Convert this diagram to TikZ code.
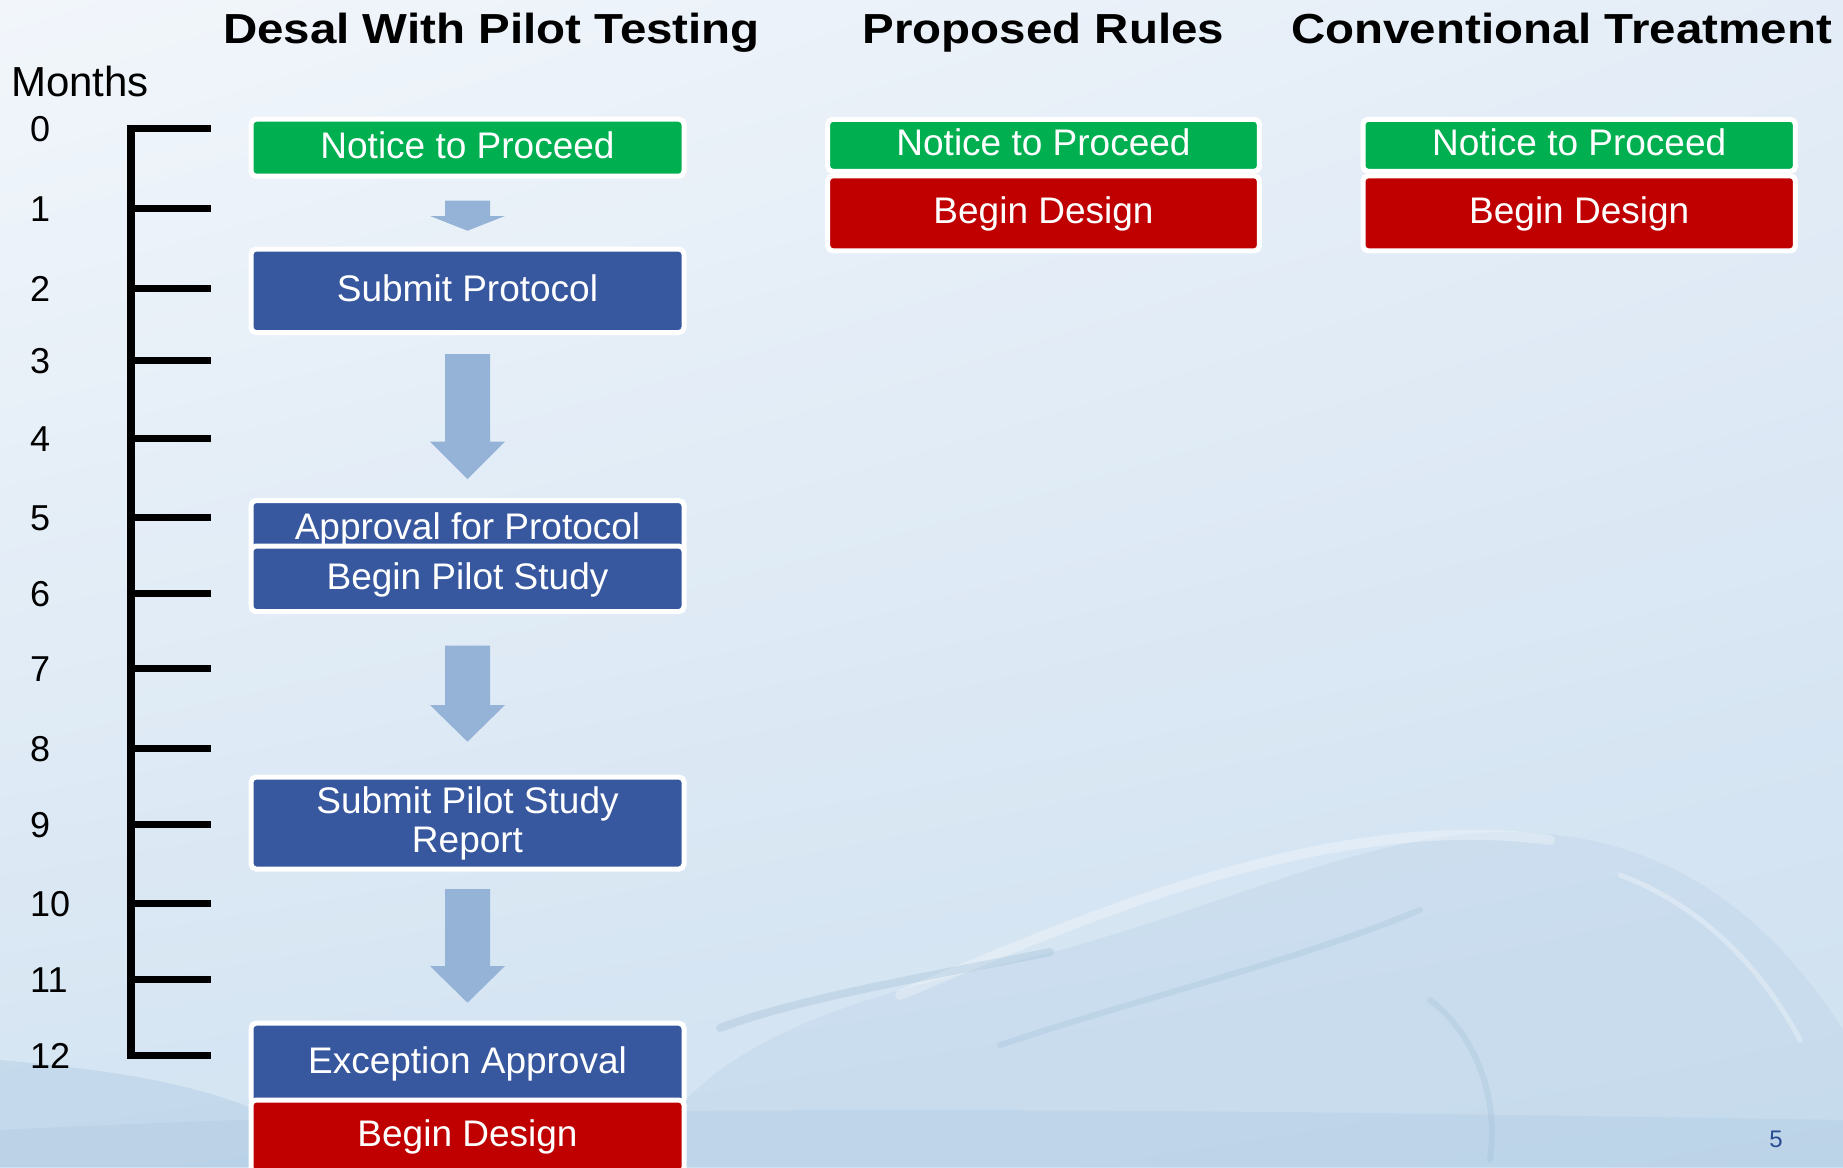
\documentclass[tikz,border=0pt]{standalone}
\usepackage{fontspec}
\usetikzlibrary{shadings}
\setmainfont{Liberation Sans}
\newfontfamily\titlefont{Liberation Sans}[FakeStretch=1.13]
\definecolor{cgreen}{RGB}{0,176,80}
\definecolor{cblue}{RGB}{55,87,158}
\definecolor{cred}{RGB}{192,0,0}
\definecolor{carrow}{RGB}{149,179,215}
\definecolor{bgA}{RGB}{242,246,251}
\definecolor{bgB}{RGB}{228,237,247}
\definecolor{bgC}{RGB}{212,228,242}
\definecolor{bgD}{RGB}{206,224,240}
\definecolor{waveA}{RGB}{165,196,222}
\definecolor{waveB}{RGB}{140,176,205}
\definecolor{pgnum}{RGB}{40,75,145}
\tikzset{
  boxbase/.style={rectangle, rounded corners=5pt, draw=white, line width=5pt,
    text=white, inner sep=0pt, font=\fontsize{37}{39}\selectfont},
  onebox/.style={boxbase, text height=29.6pt, text depth=8.9pt},
  twobox/.style={boxbase, align=center},
  gbox/.style={onebox, fill=cgreen},
  bbox/.style={onebox, fill=cblue},
  rbox/.style={onebox, fill=cred},
  headline/.style={font=\titlefont\bfseries\fontsize{42}{44}\selectfont, anchor=base, inner sep=0pt},
  monthnum/.style={font=\fontsize{36}{36}\selectfont, anchor=base west, inner sep=0pt},
  tickline/.style={line width=7pt},
  blockarrow/.style={fill=carrow}
}
\newcommand\dnarrow[4]{%
  \fill[blockarrow] (#1-22.5,#2) -- (#1+22.5,#2) -- (#1+22.5,#3) -- (#1+37.5,#3)
    -- (#1,#4) -- (#1-37.5,#3) -- (#1-22.5,#3) -- cycle;}
\begin{document}
\begin{tikzpicture}[x=1pt,y=-1pt]
\clip (0,0) rectangle (1843,1167);
\shade[upper left=bgA, upper right=bgB, lower left=bgC, lower right=bgD] (0,0) rectangle (1843,1167);
% water splash (background decoration)
\fill[waveA, opacity=0.2] (640,1167) .. controls (690,1060) and (800,1010) .. (1000,965)
  .. controls (1200,920) and (1350,835) .. (1500,832)
  .. controls (1650,830) and (1760,900) .. (1843,1030) -- (1843,1167) -- cycle;
\fill[waveA, opacity=0.35] (0,1060) .. controls (90,1068) and (190,1080) .. (260,1112)
  -- (260,1167) -- (0,1167) -- cycle;
\fill[waveA, opacity=0.25] (0,1130) .. controls (600,1100) and (1200,1110) .. (1843,1120)
  -- (1843,1167) -- (0,1167) -- cycle;
\draw[white, opacity=0.3, line width=10pt, line cap=round]
  (900,995) .. controls (1090,915) and (1330,810) .. (1550,840);
\draw[waveB, opacity=0.25, line width=8pt, line cap=round]
  (720,1028) .. controls (800,998) and (920,978) .. (1050,952);
\draw[waveB, opacity=0.2, line width=6pt, line cap=round]
  (1000,1045) .. controls (1150,995) and (1300,960) .. (1420,910);
\draw[waveB, opacity=0.2, line width=6pt, line cap=round]
  (1430,1000) .. controls (1470,1030) and (1500,1090) .. (1490,1160);
\draw[white, opacity=0.3, line width=5pt, line cap=round]
  (1620,875) .. controls (1700,905) and (1760,965) .. (1800,1040);
% titles
\node[headline] (tdesal) at (491.5,43.3) {Desal With Pilot Testing};
\node[headline] (tprop) at (1043.5,43.3) {Proposed Rules};
\node[headline] (tconv) at (1561.5,43.3) {Conventional Treatment};
\node[font=\fontsize{42}{42}\selectfont, anchor=base west, inner sep=0pt] (months) at (11,96) {Months};
% timeline
\draw[line width=8pt] (131,124.5) -- (131,1058.5);
\foreach \yy [count=\i from 0] in {128,208,288,360,438,517,593,668,748,824,903,979,1055}{
  \draw[tickline] (127,\yy) -- (211,\yy);
  \node[monthnum] (m\i) at (30,\yy+13.5) {\i};
}
% column 1 boxes
\node[gbox, minimum width=433pt, minimum height=57pt] (n1) at (467.5,147.7) {Notice to Proceed};
\node[bbox, minimum width=433pt, minimum height=83.5pt] (p1) at (467.5,290.8) {Submit Protocol};
\node[bbox, minimum width=433pt, minimum height=56.8pt] (a1) at (467.5,528.9) {Approval for Protocol};
\node[bbox, minimum width=433pt, minimum height=65.5pt] (b1) at (467.5,578.8) {Begin Pilot Study};
\node[twobox, fill=cblue, minimum width=433pt, minimum height=92pt] (r1) at (467.5,823) {Submit Pilot Study\\Report};
\node[bbox, minimum width=433pt, minimum height=80.8pt] (e1) at (467.5,1063.6) {Exception Approval};
\node[rbox, minimum width=433pt, minimum height=72.6pt] (d1) at (467.5,1136.3) {Begin Design};
% block arrows
\dnarrow{467.5}{200.7}{216}{230.7}
\dnarrow{467.5}{354}{441.7}{479}
\dnarrow{467.5}{645.7}{705}{741.7}
\dnarrow{467.5}{889}{966}{1002.7}
% column 2
\node[gbox, minimum width=431.7pt, minimum height=52pt] (n2) at (1043.5,145.3) {Notice to Proceed};
\node[rbox, minimum width=431.7pt, minimum height=75pt] (d2) at (1043.5,213.3) {Begin Design};
% column 3
\node[gbox, minimum width=432.4pt, minimum height=52pt] (n3) at (1579.2,145.3) {Notice to Proceed};
\node[rbox, minimum width=432.4pt, minimum height=75pt] (d3) at (1579.2,213.3) {Begin Design};
% page number
\node[font=\fontsize{24}{24}\selectfont, text=pgnum, anchor=base, inner sep=0pt] (pg) at (1776,1147) {5};
\end{tikzpicture}
\end{document}
